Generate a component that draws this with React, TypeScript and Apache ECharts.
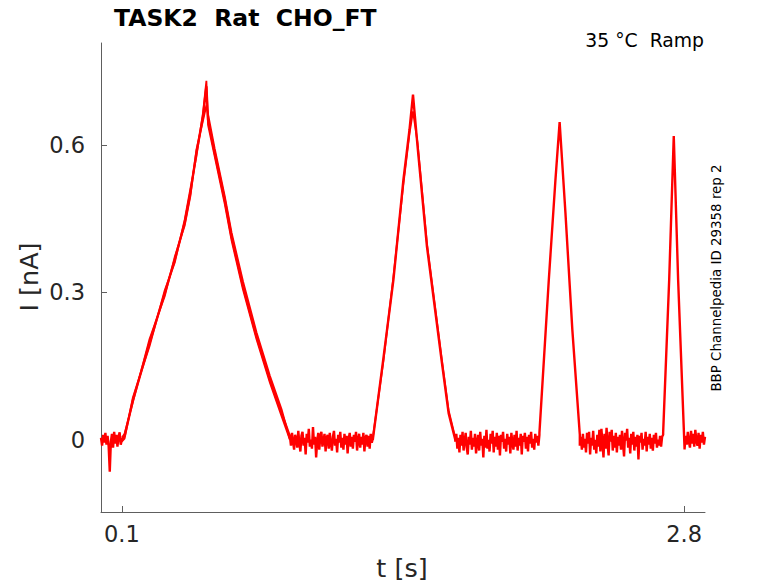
import React, { useEffect, useRef } from "react";
import * as echarts from "echarts";

const TITLE = "TASK2  Rat  CHO_FT";
const CONDITION = "35 °C  Ramp";
const SOURCE = "BBP Channelpedia ID 29358 rep 2";
const X_NAME = "t [s]";
const Y_NAME = "I [nA]";
const X_TICKS = [0.1, 2.8];
const Y_TICKS = [0, 0.3, 0.6];
const X_RANGE = [0, 2.9];
const Y_RANGE = [-0.147, 0.807];

const hold1Span = [0, 0.1];
const hold1 = [0.004, -0.012, 0.010, -0.006, 0.014, -0.010, 0.008, -0.014, -0.065, -0.004, 0.012, -0.016, 0.016, -0.008, 0.010, -0.014, 0.006, 0.015, -0.010, 0.0];
const hold2Span = [0.907, 1.305];
const hold2 = [
  0.006, -0.012, 0.014, -0.004, -0.020, 0.010, 0.002, -0.016, 0.018, -0.008,
  -0.024, 0.008, 0.016, -0.012, 0.004, -0.030, 0.012, -0.006, 0.022, -0.014,
  0.000, -0.018, 0.026, -0.010, 0.006, -0.036, -0.004, 0.014, -0.020, 0.008,
  0.016, -0.014, -0.002, 0.012, -0.024, 0.004, 0.010, -0.018, 0.014, -0.008,
  -0.022, 0.006, 0.018, -0.012, 0.002, -0.026, 0.010, -0.006, 0.016, -0.016,
  0.004, -0.020, 0.012, -0.010, 0.008, -0.028, 0.002, 0.014, -0.014, 0.006,
  -0.018, 0.010, -0.004, 0.016, -0.022, 0.000, 0.012, -0.016, 0.006, -0.010,
  0.014, -0.024, 0.004, 0.010, -0.014, 0.008, -0.018, 0.012, -0.006, 0.002,
];
const hold3Span = [1.701, 2.105];
const hold3 = [
  -0.004, 0.012, -0.018, 0.004, -0.026, 0.010, -0.012, 0.016, -0.022, -0.002,
  0.014, -0.016, -0.030, 0.006, -0.010, 0.018, -0.020, 0.004, -0.014, 0.012,
  -0.028, -0.006, 0.010, -0.022, 0.016, -0.012, 0.002, -0.036, 0.008, -0.016,
  0.020, -0.018, 0.000, -0.024, 0.012, -0.008, 0.018, -0.026, 0.006, -0.014,
  0.014, -0.020, 0.008, -0.032, 0.010, -0.004, 0.016, -0.018, 0.002, -0.024,
  0.012, -0.010, 0.006, -0.028, 0.014, -0.006, -0.020, 0.010, -0.014, 0.018,
  -0.022, 0.004, -0.012, 0.012, -0.030, 0.008, -0.004, 0.014, -0.018, 0.006,
  -0.024, 0.010, -0.008, 0.016, -0.016, 0.002, -0.020, 0.012, -0.006, 0.008,
  -0.012, 0.010,
];
const hold4Span = [2.299, 2.699];
const hold4 = [
  -0.012, 0.006, -0.020, 0.012, -0.016, 0.002, -0.026, 0.014, -0.008, 0.016,
  -0.030, 0.004, -0.012, 0.018, -0.020, 0.000, -0.028, 0.010, -0.014, 0.020,
  -0.024, 0.022, -0.006, -0.036, 0.012, -0.018, 0.024, -0.010, -0.032, 0.016,
  -0.004, 0.020, -0.022, 0.008, -0.016, 0.014, -0.026, 0.006, -0.012, 0.010,
  -0.020, 0.018, -0.008, -0.034, 0.014, -0.002, 0.022, -0.016, 0.004, -0.028,
  0.012, -0.010, 0.016, -0.022, 0.006, -0.014, 0.010, -0.040, 0.008, -0.006,
  0.014, -0.020, 0.002, -0.012, 0.016, -0.024, 0.006, -0.010, 0.012, -0.018,
  0.004, -0.022, 0.010, -0.008, 0.014, -0.016, 0.000, -0.012, 0.008, -0.014,
  0.006, 0.010,
];
const hold5Span = [2.802, 2.9];
const hold5 = [-0.018, 0.008, -0.010, 0.016, -0.004, -0.016, 0.018, -0.008, 0.012, -0.014, 0.020, -0.002, -0.012, 0.014, -0.018, 0.010, -0.006, 0.016, -0.010, 0.006];

// Ramp responses: time (s) and current (nA)
const ramp1T = [0.100, 0.113, 0.153, 0.233, 0.306, 0.354, 0.402, 0.429, 0.458, 0.490, 0.506, 0.514, 0.546, 0.594, 0.627, 0.682, 0.747, 0.811, 0.867, 0.907];
const ramp1I = [0.0, 0.007, 0.080, 0.197, 0.298, 0.366, 0.442, 0.502, 0.583, 0.658, 0.719, 0.651, 0.583, 0.488, 0.413, 0.312, 0.210, 0.122, 0.054, 0.007];
const ramp1I_b = [0.004, 0.012, 0.076, 0.205, 0.292, 0.372, 0.436, 0.495, 0.590, 0.650, 0.680, 0.662, 0.592, 0.496, 0.421, 0.322, 0.218, 0.130, 0.062, 0.0];
const ramp1I_c = [-0.004, 0.002, 0.086, 0.190, 0.304, 0.360, 0.448, 0.510, 0.576, 0.666, 0.730, 0.640, 0.576, 0.480, 0.405, 0.305, 0.204, 0.116, 0.048, 0.0];
const ramp2T = [1.305, 1.356, 1.404, 1.452, 1.481, 1.498, 1.520, 1.565, 1.637, 1.669, 1.701];
const ramp2I = [0.0, 0.166, 0.325, 0.529, 0.630, 0.702, 0.596, 0.393, 0.156, 0.054, 0.0];
const ramp2I_b = [0.004, 0.160, 0.332, 0.520, 0.622, 0.668, 0.604, 0.400, 0.162, 0.060, 0.004];
const ramp3T = [2.105, 2.150, 2.182, 2.202, 2.230, 2.263, 2.299];
const ramp3I = [0.014, 0.325, 0.529, 0.646, 0.461, 0.224, 0.010];
const ramp4T = [2.699, 2.728, 2.750, 2.771, 2.802];
const ramp4I = [0.014, 0.325, 0.618, 0.325, -0.020];

function holdPoints(span: number[], vals: number[]) {
  const n = vals.length;
  return vals.map((v, i) => [span[0] + ((span[1] - span[0]) * i) / (n - 1), v]);
}
function rampPoints(ts: number[], is: number[]) {
  return ts.map((t, i) => [t, is[i]]);
}

const mainTrace = [
  ...holdPoints(hold1Span, hold1),
  ...rampPoints(ramp1T, ramp1I),
  ...holdPoints(hold2Span, hold2),
  ...rampPoints(ramp2T, ramp2I),
  ...holdPoints(hold3Span, hold3),
  ...rampPoints(ramp3T, ramp3I),
  ...holdPoints(hold4Span, hold4),
  ...rampPoints(ramp4T, ramp4I),
  ...holdPoints(hold5Span, hold5),
];

const FONT = "'DejaVu Sans', 'Noto Sans', sans-serif";
const AXIS_COLOR = "#5e5e5e";
const TEXT_COLOR = "#262626";
const RED = "#ff0000";

export default function App() {
  const ref = useRef<HTMLDivElement>(null);
  useEffect(() => {
    if (!ref.current) return;
    const chart = echarts.init(ref.current, undefined, { renderer: "svg" });
    const lineSeries = (name: string, data: number[][], width: number) => ({
      name,
      type: "line",
      data,
      showSymbol: false,
      symbol: "none",
      lineStyle: { color: RED, width },
      itemStyle: { color: RED },
      z: 2,
    });
    chart.setOption({
      animation: false,
      grid: { left: 101, top: 43, right: 73, bottom: 71 },
      xAxis: {
        type: "value",
        min: X_RANGE[0],
        max: X_RANGE[1],
        axisLine: { show: true, onZero: false, lineStyle: { color: AXIS_COLOR, width: 1 } },
        axisTick: { show: true, inside: true, length: 6, customValues: X_TICKS, lineStyle: { color: AXIS_COLOR } },
        axisLabel: { customValues: X_TICKS, fontSize: 22.5, color: TEXT_COLOR, margin: 10, fontFamily: FONT },
        splitLine: { show: false },
      },
      yAxis: {
        type: "value",
        min: Y_RANGE[0],
        max: Y_RANGE[1],
        axisLine: { show: true, onZero: false, lineStyle: { color: AXIS_COLOR, width: 1 } },
        axisTick: { show: true, inside: true, length: 6, customValues: Y_TICKS, lineStyle: { color: AXIS_COLOR } },
        axisLabel: { customValues: Y_TICKS, fontSize: 22.5, color: TEXT_COLOR, margin: 16, fontFamily: FONT },
        splitLine: { show: false },
      },
      series: [
        lineSeries("rep b", rampPoints(ramp1T, ramp1I_b), 1.8),
        lineSeries("rep c", rampPoints(ramp1T, ramp1I_c), 1.8),
        lineSeries("rep b2", rampPoints(ramp2T, ramp2I_b), 1.8),
        lineSeries("trace", mainTrace, 2.4),
      ],
      graphic: [
        {
          type: "text",
          x: 114,
          y: 18,
          style: { text: TITLE, font: `bold 23.5px ${FONT}`, fill: "#000", align: "left", verticalAlign: "middle" },
        },
        {
          type: "text",
          x: 704,
          y: 40,
          style: { text: CONDITION, font: `18.8px ${FONT}`, fill: "#000", align: "right", verticalAlign: "middle" },
        },
        {
          type: "text",
          x: 716,
          y: 278,
          rotation: Math.PI / 2,
          style: { text: SOURCE, font: `13.4px ${FONT}`, fill: "#000", align: "center", verticalAlign: "middle" },
        },
        {
          type: "text",
          x: 29,
          y: 277,
          rotation: Math.PI / 2,
          style: { text: Y_NAME, font: `25.5px ${FONT}`, fill: TEXT_COLOR, align: "center", verticalAlign: "middle" },
        },
        {
          type: "text",
          x: 402,
          y: 568,
          style: { text: X_NAME, font: `25.5px ${FONT}`, fill: TEXT_COLOR, align: "center", verticalAlign: "middle" },
        },
      ],
    });
    return () => chart.dispose();
  }, []);
  return (
    <div
      ref={ref}
      style={{ position: "fixed", left: 0, top: 0, width: 778, height: 583, background: "#fff" }}
    />
  );
}
